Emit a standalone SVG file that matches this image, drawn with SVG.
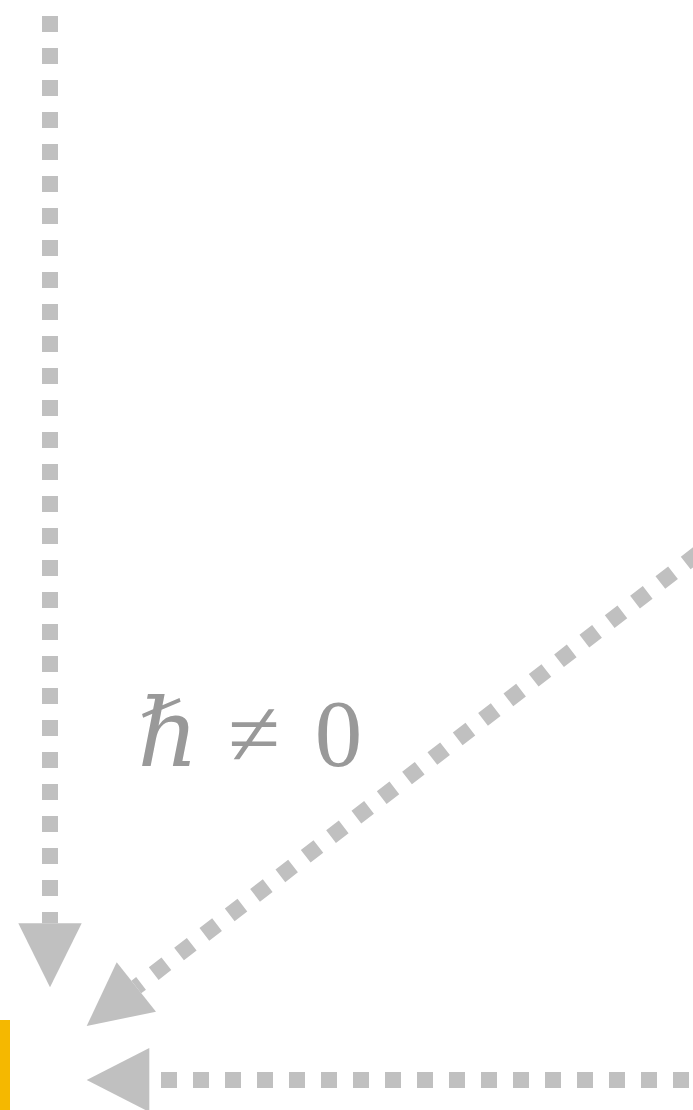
<svg xmlns="http://www.w3.org/2000/svg" width="693" height="1110" viewBox="0 0 693 1110">
  <style>
    .conn { fill: none; stroke: #C0C0C0; stroke-width: 16; stroke-dasharray: 16 16; stroke-linecap: butt; }
    .head { fill: #C0C0C0; stroke: none; }
    .lbl { fill: #999999; font-size: 95px; text-anchor: middle; font-family: 'Liberation Serif', 'DejaVu Serif', 'Times New Roman', serif; }
    .hbar { font-family: 'DejaVu Serif', 'Liberation Serif', serif; font-style: italic; }
  </style>
  <rect width="693" height="1110" fill="#FFFFFF"/>
  <g id="node-target">
    <rect x="0" y="1020" width="10" height="90" fill="#F5B800"/>
  </g>
  <g id="connectors">
    <path class="conn" d="M50,16 L50,923.3"/>
    <polygon class="head" points="18.3,923.3 81.7,923.3 50,987.3"/>
    <path class="conn" d="M136.3,987 L769.6,498.2" stroke-dashoffset="10"/>
    <polygon class="head" points="86.7,1026 116.7,962.3 156,1011.7"/>
    <path class="conn" d="M721,1080 L149.3,1080"/>
    <polygon class="head" points="149.3,1048 149.3,1112 86.7,1080"/>
  </g>
  <g id="label">
    <text class="lbl hbar" x="168" y="766">ℏ</text>
    <text class="lbl" x="254" y="766">≠</text>
    <text class="lbl" x="338.5" y="766">0</text>
  </g>
</svg>
